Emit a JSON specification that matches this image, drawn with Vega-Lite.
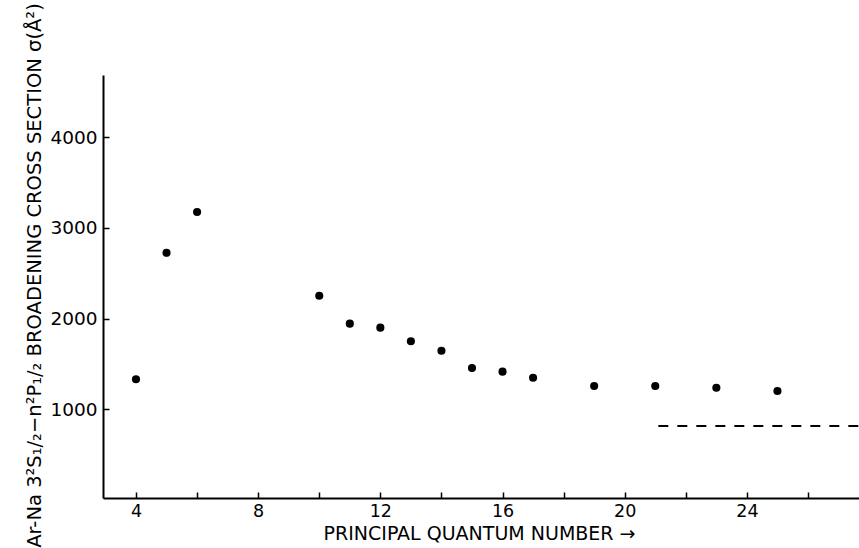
{
  "$schema": "https://vega.github.io/schema/vega-lite/v6.json",
  "width": 756,
  "height": 423,
  "autosize": {"type": "none"},
  "padding": {"left": 103, "top": 75, "right": 0, "bottom": 50},
  "background": "white",
  "config": {
    "view": {"stroke": null},
    "font": "DejaVu Sans",
    "axis": {
      "grid": false,
      "domainColor": "black",
      "domainWidth": 2,
      "tickColor": "black",
      "tickWidth": 1.5,
      "tickSize": -6,
      "labelColor": "black",
      "labelFont": "DejaVu Sans",
      "labelFontSize": 17.5,
      "titleColor": "black",
      "titleFont": "DejaVu Sans",
      "titleFontSize": 19.5,
      "titleFontWeight": "normal"
    }
  },
  "datasets": {
    "points": [
      {"n": 4, "sigma": 1331},
      {"n": 5, "sigma": 2726},
      {"n": 6, "sigma": 3175},
      {"n": 10, "sigma": 2252},
      {"n": 11, "sigma": 1944},
      {"n": 12, "sigma": 1900},
      {"n": 13, "sigma": 1750},
      {"n": 14, "sigma": 1646},
      {"n": 15, "sigma": 1455},
      {"n": 16, "sigma": 1415},
      {"n": 17, "sigma": 1348},
      {"n": 19, "sigma": 1257},
      {"n": 21, "sigma": 1257},
      {"n": 23, "sigma": 1238},
      {"n": 25, "sigma": 1202}
    ],
    "limit": [
      {"n": 21.1, "n2": 27.67, "sigma": 816}
    ]
  },
  "layer": [
    {
      "data": {"name": "points"},
      "mark": {"type": "circle", "size": 66, "color": "black", "opacity": 1},
      "encoding": {
        "x": {
          "field": "n",
          "type": "quantitative",
          "scale": {"domain": [2.92, 27.67], "nice": false, "zero": false},
          "axis": {
            "values": [4, 6, 8, 10, 12, 14, 16, 18, 20, 22, 24, 26],
            "labelExpr": "datum.value % 4 == 0 ? datum.label : ''",
            "labelPadding": 10,
            "title": "PRINCIPAL QUANTUM NUMBER →",
            "titleFontSize": 19,
            "titleX": 376,
            "titleY": 41,
            "titleAlign": "center",
            "titleBaseline": "alphabetic"
          }
        },
        "y": {
          "field": "sigma",
          "type": "quantitative",
          "scale": {"domain": [22, 4686], "nice": false, "zero": false},
          "axis": {
            "values": [1000, 2000, 3000, 4000],
            "format": "d",
            "labelFontSize": 18.5,
            "labelPadding": 12,
            "title": "Ar-Na 3²S₁/₂−n²P₁/₂ BROADENING CROSS SECTION σ(Å²)",
            "titleAngle": -90,
            "titleX": -63,
            "titleY": 200,
            "titleAlign": "center",
            "titleBaseline": "alphabetic"
          }
        }
      }
    },
    {
      "data": {"name": "limit"},
      "mark": {"type": "rule", "color": "black", "strokeWidth": 2, "strokeDash": [10, 9]},
      "encoding": {
        "x": {"field": "n", "type": "quantitative"},
        "x2": {"field": "n2"},
        "y": {"field": "sigma", "type": "quantitative"}
      }
    }
  ]
}
